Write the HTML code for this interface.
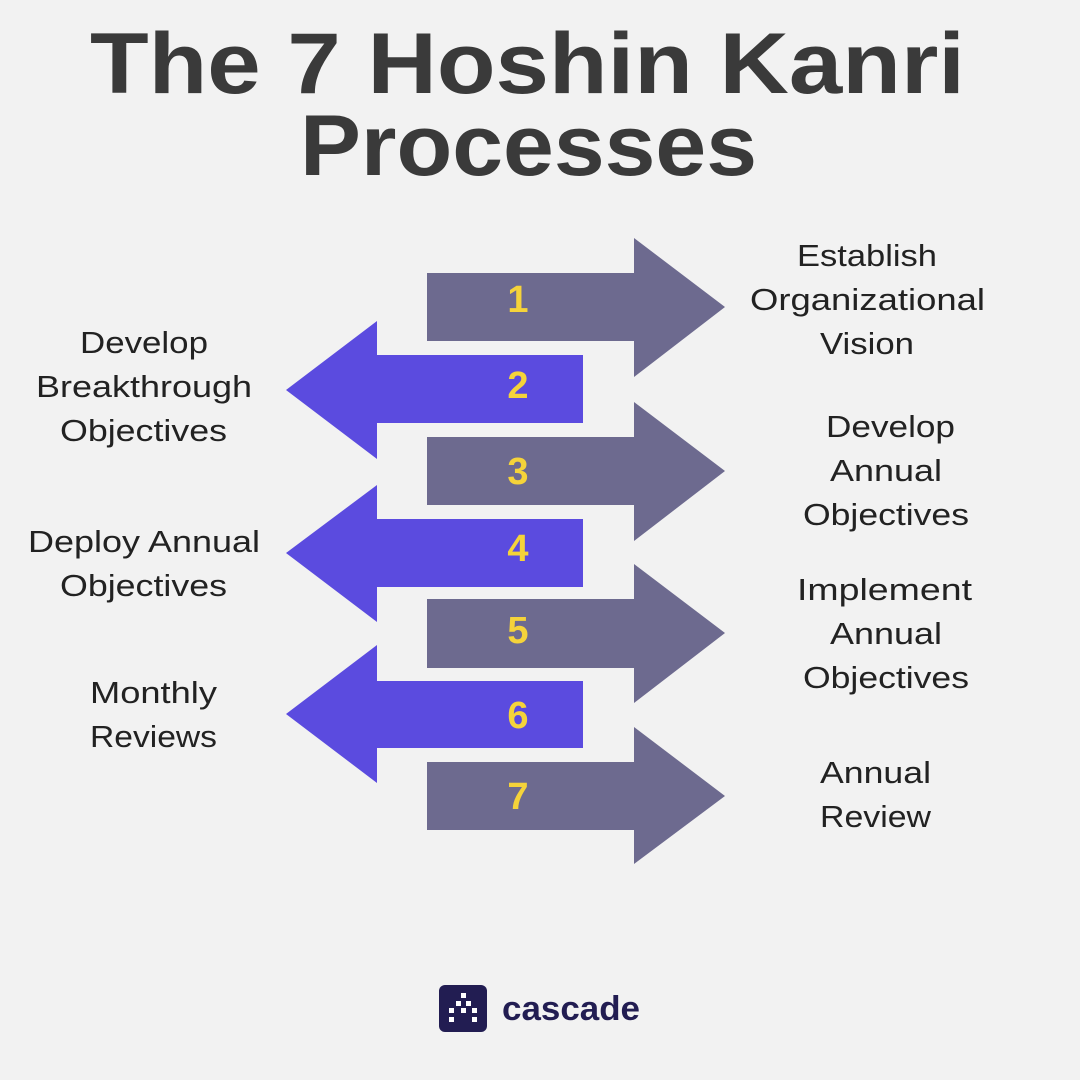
<!DOCTYPE html>
<html><head><meta charset="utf-8"><style>
html,body{margin:0;padding:0;background:#f2f2f2;}
svg{display:block}
</style></head><body>
<svg width="1080" height="1080" viewBox="0 0 1080 1080" xmlns="http://www.w3.org/2000/svg">
<rect width="1080" height="1080" fill="#f2f2f2"/>
<g font-family="Liberation Sans, sans-serif" font-weight="bold" fill="#3a3a3a" font-size="86">
<text x="90" y="93" textLength="875" lengthAdjust="spacingAndGlyphs">The 7 Hoshin Kanri</text>
<text x="300" y="175" textLength="457" lengthAdjust="spacingAndGlyphs">Processes</text>
</g>
<g fill="#6d6a8f">
<polygon points="427,273 634,273 634,238 725,307 634,377 634,341 427,341"/>
<polygon points="427,437 634,437 634,402 725,471 634,541 634,505 427,505"/>
<polygon points="427,599 634,599 634,564 725,633 634,703 634,668 427,668"/>
<polygon points="427,762 634,762 634,727 725,796 634,864 634,830 427,830"/>
</g>
<g fill="#5b4bdf">
<polygon points="583,355 377,355 377,321 286,390 377,459 377,423 583,423"/>
<polygon points="583,519 377,519 377,485 286,553 377,622 377,587 583,587"/>
<polygon points="583,681 377,681 377,645 286,714 377,783 377,748 583,748"/>
</g>
<g font-family="Liberation Sans, sans-serif" font-weight="bold" fill="#f5d33a" font-size="38" text-anchor="middle">
<text x="518" y="312">1</text>
<text x="518" y="398">2</text>
<text x="518" y="484">3</text>
<text x="518" y="561">4</text>
<text x="518" y="643">5</text>
<text x="518" y="728">6</text>
<text x="518" y="809">7</text>
</g>
<g font-family="Liberation Sans, sans-serif" fill="#222" font-size="31">
<text x="797" y="266" textLength="140" lengthAdjust="spacingAndGlyphs">Establish</text>
<text x="750" y="310" textLength="235" lengthAdjust="spacingAndGlyphs">Organizational</text>
<text x="820" y="354" textLength="94" lengthAdjust="spacingAndGlyphs">Vision</text>
<text x="80" y="353" textLength="128" lengthAdjust="spacingAndGlyphs">Develop</text>
<text x="36" y="397" textLength="216" lengthAdjust="spacingAndGlyphs">Breakthrough</text>
<text x="60" y="441" textLength="167" lengthAdjust="spacingAndGlyphs">Objectives</text>
<text x="826" y="437" textLength="129" lengthAdjust="spacingAndGlyphs">Develop</text>
<text x="830" y="481" textLength="112" lengthAdjust="spacingAndGlyphs">Annual</text>
<text x="803" y="525" textLength="166" lengthAdjust="spacingAndGlyphs">Objectives</text>
<text x="28" y="552" textLength="232" lengthAdjust="spacingAndGlyphs">Deploy Annual</text>
<text x="60" y="596" textLength="167" lengthAdjust="spacingAndGlyphs">Objectives</text>
<text x="797" y="600" textLength="175" lengthAdjust="spacingAndGlyphs">Implement</text>
<text x="830" y="644" textLength="112" lengthAdjust="spacingAndGlyphs">Annual</text>
<text x="803" y="688" textLength="166" lengthAdjust="spacingAndGlyphs">Objectives</text>
<text x="90" y="703" textLength="127" lengthAdjust="spacingAndGlyphs">Monthly</text>
<text x="90" y="747" textLength="127" lengthAdjust="spacingAndGlyphs">Reviews</text>
<text x="820" y="783" textLength="111" lengthAdjust="spacingAndGlyphs">Annual</text>
<text x="820" y="827" textLength="111" lengthAdjust="spacingAndGlyphs">Review</text>
</g>
<rect x="439" y="985" width="48" height="47" rx="6" fill="#221d52"/>
<g fill="#fff">
<rect x="461" y="993" width="5" height="5"/>
<rect x="456" y="1001" width="5" height="5"/><rect x="466" y="1001" width="5" height="5"/>
<rect x="449" y="1008" width="5" height="5"/><rect x="461" y="1008" width="5" height="5"/><rect x="472" y="1008" width="5" height="5"/>
<rect x="449" y="1017" width="5" height="5"/><rect x="472" y="1017" width="5" height="5"/>
</g>
<text x="502" y="1020" font-family="Liberation Sans, sans-serif" font-weight="bold" font-size="34" fill="#221d52" textLength="138" lengthAdjust="spacingAndGlyphs">cascade</text>
</svg>
</body></html>
